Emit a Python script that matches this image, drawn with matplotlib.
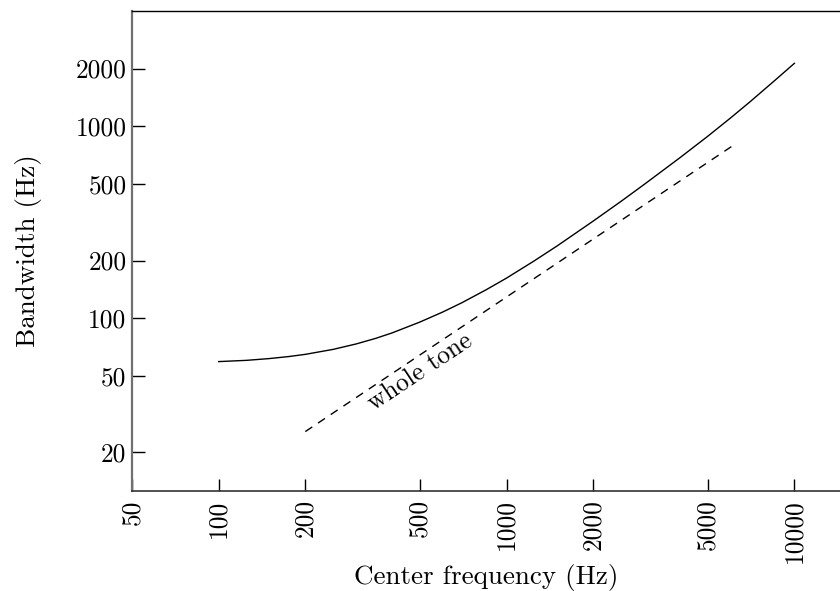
import matplotlib
matplotlib.use("Agg")
import matplotlib.pyplot as plt
from matplotlib.ticker import FixedLocator, NullLocator

plt.rcParams['font.family'] = ['cmr10', 'DejaVu Serif']
plt.rcParams['mathtext.fontset'] = 'cm'
plt.rcParams['axes.unicode_minus'] = False

# Critical bandwidth curve
freq = [100, 125, 150, 175, 200, 250, 300, 350, 400, 500, 600, 700, 850,
        1000, 1250, 1500, 2000, 2500, 3000, 4000, 5000, 6000, 7000, 8500, 10000]
bandwidth = [59.5, 60.4, 61.7, 63.2, 64.9, 68.9, 73.5, 78.5, 83.9, 95.6, 107.8,
             120.6, 140.9, 162, 199.5, 238.5, 321, 407, 497, 686, 888, 1106,
             1340, 1722, 2130]

# Whole-tone reference line
tone_freq = [200, 6260]
tone_bw = [25.7, 813]

xticks = [50, 100, 200, 500, 1000, 2000, 5000, 10000]
yticks = [20, 50, 100, 200, 500, 1000, 2000]

FS = 18.3
FS_LABEL = 19.5

fig = plt.figure(figsize=(8.4, 5.91), dpi=100)
ax = fig.add_axes([132/840, 1-491/591, 1-132/840, (491-11)/591])

ax.plot(freq, bandwidth, color='black', lw=1.0)
ax.plot(tone_freq, tone_bw, color='black', lw=1.0, ls=(0, (6, 5)))

ax.set_xscale('log')
ax.set_yscale('log')
ax.set_xlim(50, 14400)
ax.set_ylim(12.6, 3990)

ax.xaxis.set_major_locator(FixedLocator(xticks))
ax.yaxis.set_major_locator(FixedLocator(yticks))
ax.xaxis.set_minor_locator(NullLocator())
ax.yaxis.set_minor_locator(NullLocator())
ax.set_xticklabels([str(v) for v in xticks], rotation=90)
ax.set_yticklabels([str(v) for v in yticks])

ax.tick_params(axis='both', direction='in', length=9, width=1.0, color='black',
               labelsize=FS)
ax.tick_params(axis='x', pad=6)
ax.tick_params(axis='y', pad=4)

ax.spines['right'].set_visible(False)
ax.spines['top'].set_color('black')
ax.spines['top'].set_linewidth(1.0)
ax.spines['left'].set_color('#707070')
ax.spines['left'].set_linewidth(1.6)
ax.spines['bottom'].set_color('#333333')
ax.spines['bottom'].set_linewidth(1.2)

ax.set_xlabel('Center frequency (Hz)', fontsize=FS_LABEL, labelpad=1)
ax.set_ylabel('Bandwidth (Hz)', fontsize=FS_LABEL, labelpad=24)

ax.text(500, 52.5, 'whole tone', rotation=33.7, ha='center', va='center',
        rotation_mode='anchor', fontsize=FS)

fig.savefig('out.png', dpi=100)
